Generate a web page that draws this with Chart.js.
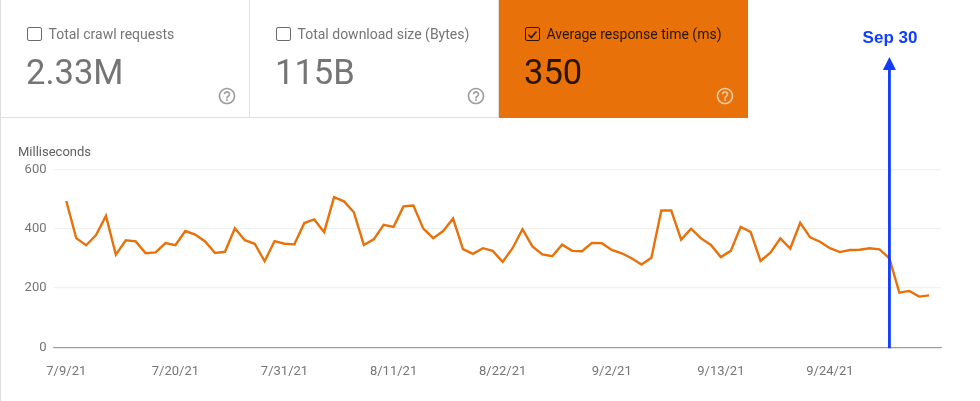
<!DOCTYPE html>
<html>
<head>
<meta charset="utf-8">
<script src="https://cdn.jsdelivr.net/npm/chart.js@4"></script>
<style>
  html, body { margin: 0; padding: 0; background: #fff; }
  body { width: 980px; height: 401px; position: relative; overflow: hidden; font-family: Roboto, sans-serif; }
  #myChart { position: absolute; left: 0; top: 0; }
  .leftline { position: absolute; left: 0; top: 0; width: 1px; height: 401px; background: #dcdcdc; }
  .card { position: absolute; top: 0; width: 250px; height: 118px; box-sizing: border-box; color: #757575; }
  .card.first, .card.second { border-right: 1px solid #e0e0e0; border-bottom: 1.5px solid #e0e0e0; }
  .card.on { background: linear-gradient(#e8710a, #e8710a) 1px 0 no-repeat; color: #2a1503; }
  .box { position: absolute; left: 27px; top: 26.5px; width: 12.5px; height: 12.5px; border: 1.5px solid #6b6b6b; border-radius: 2px; }
  .on .box { border-color: #2a1503; }
  .box svg { position: absolute; left: 0; top: 0; }
  .label { position: absolute; left: 48.5px; top: 26px; font-size: 14px; line-height: 17px; white-space: nowrap; }
  .num { position: absolute; left: 26px; top: 51px; font-size: 34.5px; line-height: 42px; white-space: nowrap; }
  .help { position: absolute; left: 217px; top: 85.5px; }
  #unit { position: absolute; left: 18px; top: 144px; font-size: 13px; line-height: 16px; color: #616161; }
  #note { position: absolute; left: 840px; top: 28px; width: 100px; text-align: center; font: bold 17px/20px "Liberation Sans", sans-serif; color: #0f3cff; }
</style>
</head>
<body>
<canvas id="myChart" width="980" height="401"></canvas>
<div class="leftline"></div>
<div id="cards"></div>
<div id="unit">Milliseconds</div>
<div id="note">Sep 30</div>
<script>
// tiles along the top
const cardLabels = ['Total crawl requests', 'Total download size (Bytes)', 'Average response time (ms)'];
const cardValues = ['2.33M', '115B', '350'];

// one value per day, 7/9/21 onwards
const responseTimes = [
  493, 368, 344, 378, 443, 312, 361, 357, 317, 320, 351,
  344, 392, 380, 357, 318, 322, 401, 361, 349, 290, 358,
  349, 347, 419, 431, 388, 506, 492, 455, 345, 364, 413,
  406, 475, 478, 400, 368, 392, 434, 331, 315, 334, 325,
  288, 334, 398, 340, 313, 307, 346, 325, 324, 352, 351,
  328, 317, 300, 279, 302, 461, 461, 363, 400, 367, 345,
  304, 325, 406, 389, 291, 319, 367, 333, 420, 371, 356,
  334, 321, 328, 329, 334, 330, 300, 184, 190, 171, 175
];
const tickDays = [0, 11, 22, 33, 44, 55, 66, 77];
const tickLabels = ['7/9/21', '7/20/21', '7/31/21', '8/11/21', '8/22/21', '9/2/21', '9/13/21', '9/24/21'];
const yTicks = [0, 200, 400, 600];
const markerDay = 83; // Sep 30

const helpPath = 'M11 18h2v-2h-2v2zm1-16C6.48 2 2 6.48 2 12s4.48 10 10 10 10-4.48 10-10S17.52 2 12 2zm0 18c-4.41 0-8-3.59-8-8s3.59-8 8-8 8 3.59 8 8-3.59 8-8 8zm0-14c-2.21 0-4 1.79-4 4h2c0-1.1.9-2 2-2s2 .9 2 2c0 2-3 1.75-3 5h2c0-2.25 3-2.5 3-5 0-2.21-1.79-4-4-4z';
const cardClass = ['first', 'second', 'on'];
const cardsEl = document.getElementById('cards');
cardLabels.forEach((label, i) => {
  const on = cardClass[i] === 'on';
  const tick = on ? '<svg width="13" height="13" viewBox="0 0 13 13"><path d="M2.5 6.8l2.8 2.8 5.2-6" fill="none" stroke="#2a1503" stroke-width="1.5"/></svg>' : '';
  const div = document.createElement('div');
  div.className = 'card ' + cardClass[i];
  div.style.left = (i * 249) + 'px';
  div.innerHTML = '<div class="box">' + tick + '</div><div class="label">' + label + '</div>' +
    '<div class="num">' + cardValues[i] + '</div>' +
    '<svg class="help" width="20" height="20" viewBox="0 0 24 24"><path d="' + helpPath + '" fill="' + (on ? '#f6c9a0' : '#9e9e9e') + '"/></svg>';
  cardsEl.appendChild(div);
});

// blue arrow going up from the axis at the marker day
const arrowPlugin = {
  id: 'arrow',
  afterDraw(chart) {
    const c = chart.ctx;
    const x = chart.scales.x.getPixelForValue(markerDay);
    const bottom = chart.scales.y.getPixelForValue(0) + 1;
    c.save();
    c.strokeStyle = '#0f3cff';
    c.fillStyle = '#0f3cff';
    c.lineWidth = 2.8;
    c.beginPath();
    c.moveTo(x, bottom);
    c.lineTo(x, 68);
    c.stroke();
    c.beginPath();
    c.moveTo(x, 57);
    c.lineTo(x + 6.5, 70);
    c.lineTo(x - 6.5, 70);
    c.closePath();
    c.fill();
    c.restore();
  }
};

const ctx = document.getElementById('myChart').getContext('2d');
const myChart = new Chart(ctx, {
  type: 'line',
  data: {
    datasets: [{
      data: responseTimes.map((v, i) => ({ x: i, y: v })),
      borderColor: '#e8710a',
      borderWidth: 2.4,
      pointRadius: 0,
      tension: 0
    }]
  },
  options: {
    responsive: false,
    animation: false,
    layout: { padding: { top: 169.3, left: 0, right: 39, bottom: 0 } },
    plugins: { legend: { display: false }, tooltip: { enabled: false } },
    scales: {
      x: {
        type: 'linear',
        min: -1.29,
        max: 88.2,
        afterBuildTicks(scale) { scale.ticks = tickDays.map(d => ({ value: d })); },
        afterFit(scale) { scale.height = 53.7; },
        grid: { display: false },
        border: { color: '#9e9e9e', width: 1 },
        ticks: {
          autoSkip: false,
          maxRotation: 0,
          padding: 9,
          color: '#757575',
          font: { family: 'Roboto', size: 13 },
          callback: (v) => tickLabels[tickDays.indexOf(v)]
        }
      },
      y: {
        min: 0,
        max: 600,
        afterBuildTicks(scale) { scale.ticks = yTicks.map(v => ({ value: v })); },
        afterFit(scale) { scale.width = 53.5; },
        grid: { color: (c) => c.tick.value === 0 ? '#9e9e9e' : '#f1f1f1', lineWidth: 1.3, drawTicks: false },
        border: { display: false },
        ticks: {
          padding: 7,
          color: '#757575',
          font: { family: 'Roboto', size: 13 }
        }
      }
    }
  },
  plugins: [arrowPlugin]
});
</script>
</body>
</html>
